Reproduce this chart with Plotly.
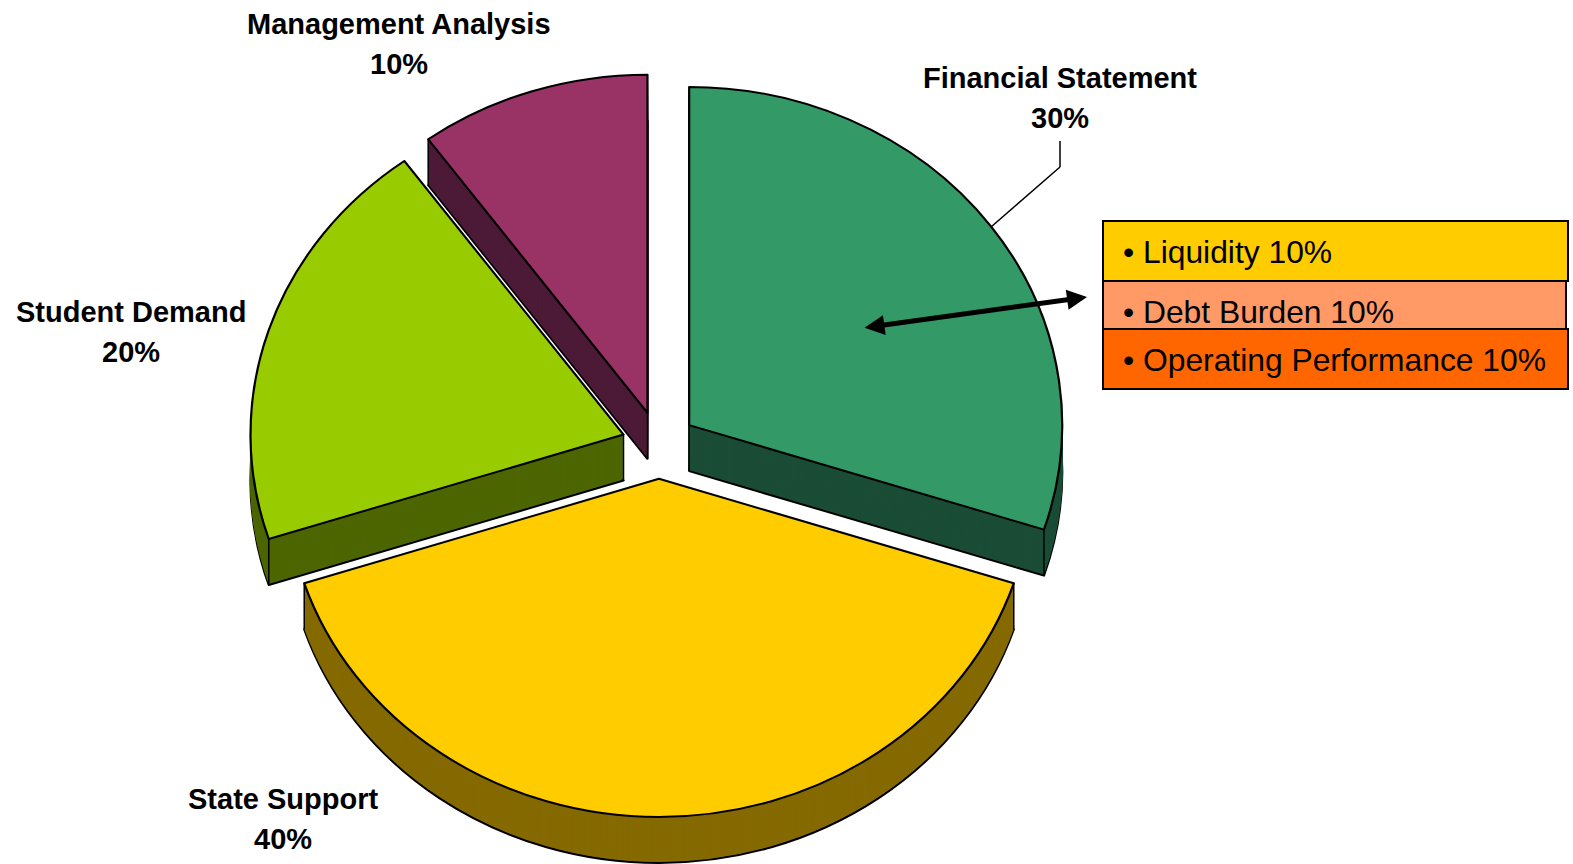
import math
import plotly.graph_objects as go

W, H = 1573, 864

categories = ["Financial Statement", "State Support", "Student Demand", "Management Analysis"]
values = [30, 40, 20, 10]
top_colors = ["#339966", "#FFCC00", "#99CC00", "#993366"]
side_colors = ["#1B4D36", "#856A00", "#4D6600", "#4D1B38"]
pulls = [0.1, 0.1, 0.1, 0.1]
breakdown = ["• Liquidity 10%", "• Debt Burden 10%", "• Operating Performance 10%"]
breakdown_colors = ["#FFCC00", "#FF9966", "#FF6600"]

CX, CY, HALF, DEPTH, STEP = 659, 445, 372, 46, 2
R = HALF / 1.1
SCALE_X = 373 / R


def px(x):
    return x / W


def py(y):
    return 1 - y / H


def layer(offset, colors, line_colors, line_w):
    return go.Pie(
        labels=categories, values=values, sort=False, direction="clockwise",
        rotation=0, pull=pulls, textinfo="none", hoverinfo="label+percent",
        showlegend=False,
        marker=dict(colors=colors, line=dict(color=line_colors, width=line_w)),
        domain=dict(x=[px(CX - HALF), px(CX + HALF)],
                    y=[py(CY + offset + HALF), py(CY + offset - HALF)]),
    )


fig = go.Figure()
fig.add_trace(layer(DEPTH, side_colors, ["#000000"] * 4, 2))
for d in range(DEPTH - STEP, 0, -STEP):
    fig.add_trace(layer(d, side_colors, side_colors, 1))
fig.add_trace(layer(0, top_colors, ["#000000"] * 4, 2))

LABEL = dict(family="Liberation Sans", size=29, color="#000000")
label_pos = [(1060, 78, 118), (283, 799, 839), (131, 312, 352), (399, 24, 64)]
annotations = []
shapes = []
for name, v, (x, y1, y2) in zip(categories, values, label_pos):
    for txt, y in ((name, y1), (f"{v}%", y2)):
        annotations.append(dict(
            text=f"<b>{txt}</b>", x=px(x), y=py(y), xref="paper", yref="paper",
            showarrow=False, xanchor="center", yanchor="middle", align="center", font=LABEL))

box_edges = [(221, 281), (281, 329), (329, 389)]
box_right = [1568, 1566, 1568]
text_y = [252, 312, 360]
for (y0, y1), xr, c, t, ty in zip(box_edges, box_right, breakdown_colors, breakdown, text_y):
    shapes.append(dict(type="rect", xref="paper", yref="paper", x0=px(1103), x1=px(xr),
                       y0=py(y0), y1=py(y1), fillcolor=c, line=dict(color="#000000", width=2)))
    annotations.append(dict(text=t, x=px(1121), y=py(ty), xref="paper", yref="paper",
                            showarrow=False, xanchor="left", yanchor="middle",
                            font=dict(family="Liberation Sans", size=31.8, color="#000000")))

# vertical edges of the extruded slices, derived from the slice values.
# Per slice: which of (apex, start corner, end corner) has a visible side edge.
visible_edges = [(True, False, True), (False, True, True), (True, True, False), (True, True, False)]
total = sum(values)
start = 0.0
for i, v in enumerate(values):
    a0 = start / total * 2 * math.pi
    a1 = (start + v) / total * 2 * math.pi
    mid = (a0 + a1) / 2
    ox = math.sin(mid) * R * pulls[i]
    oy = -math.cos(mid) * R * pulls[i]
    corners = [(ox, oy),
               (ox + math.sin(a0) * R, oy - math.cos(a0) * R),
               (ox + math.sin(a1) * R, oy - math.cos(a1) * R)]
    for show, (dx, dy) in zip(visible_edges[i], corners):
        if show:
            x = CX + dx * SCALE_X
            y = CY + dy
            shapes.append(dict(type="line", xref="paper", yref="paper", x0=px(x), y0=py(y),
                               x1=px(x), y1=py(y + DEPTH), line=dict(color="#000000", width=1.5)))
    start += v

# leader line from the Financial Statement label to its slice
leader = [(1060, 141), (1060, 167), (991, 227)]
for (a, b) in zip(leader[:-1], leader[1:]):
    shapes.append(dict(type="line", xref="paper", yref="paper", x0=px(a[0]), y0=py(a[1]),
                       x1=px(b[0]), y1=py(b[1]), line=dict(color="#000000", width=1.5)))

# double-headed arrow
annotations.append(dict(text="", x=px(1087), y=py(297), xref="paper", yref="paper",
                        ax=-224, ay=31, axref="pixel", ayref="pixel", showarrow=True,
                        arrowside="end+start", arrowhead=2, startarrowhead=2,
                        arrowsize=0.8, startarrowsize=0.8, arrowwidth=5, arrowcolor="#000000"))

fig.update_layout(width=W, height=H, margin=dict(l=0, r=0, t=0, b=0),
                  paper_bgcolor="#FFFFFF", plot_bgcolor="#FFFFFF",
                  shapes=shapes, annotations=annotations, showlegend=False)

# Plotly pies are always circular: the reference pie is tilted, so widen the pie layer.
post = (
    "document.body.style.margin='0';document.body.style.overflow='hidden';"
    "document.querySelectorAll('.pielayer').forEach(function(g){"
    f"g.setAttribute('transform','translate({CX},0) scale({SCALE_X:.4f},1) translate({-CX},0)');"
    "});"
)
fig.write_html("out.html", post_script=post, config=dict(displayModeBar=False))
